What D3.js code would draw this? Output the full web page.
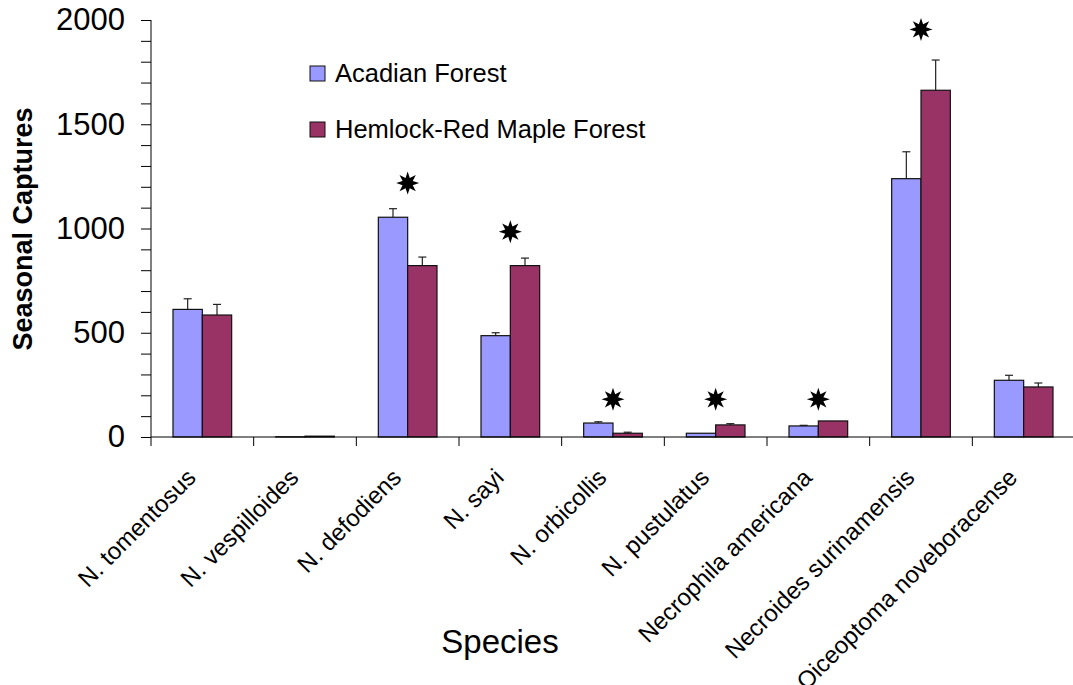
<!DOCTYPE html>
<html>
<head>
<meta charset="utf-8">
<script src="https://cdn.jsdelivr.net/npm/d3@7"></script>
<style>
  body { margin: 0; background: #fff; }
  svg { display: block; font-family: "Liberation Sans", Arial, sans-serif; }
</style>
</head>
<body>
<div id="chart"></div>
<script>
// chart data
var species = ["N. tomentosus", "N. vespilloides", "N. defodiens", "N. sayi", "N. orbicollis",
               "N. pustulatus", "Necrophila americana", "Necroides surinamensis", "Oiceoptoma noveboracense"];
var seriesNames = ["Acadian Forest", "Hemlock-Red Maple Forest"];
var acadian    = [612, 1, 1054, 486, 67, 18, 53, 1239, 272];
var acadianErr = [51, 0, 41, 14, 6, 0, 3, 129, 24];
var hemlock    = [585, 4, 822, 822, 18, 58, 77, 1663, 240];
var hemlockErr = [51, 0, 41, 36, 5, 6, 0, 145, 19];
// significance stars (value level where the star sits, null = none)
var starLevel  = [null, null, 1218, 985, 181, 181, 181, 1955, null];
var yTicks = [0, 500, 1000, 1500, 2000];

var width = 1073, height = 685;
var plotLeft = 151, plotRight = 1075, plotTop = 20, plotBottom = 437;
var colors = ["#9999ff", "#993366"];

var svg = d3.select("#chart").append("svg")
    .attr("width", width)
    .attr("height", height);

var x = d3.scaleBand().domain(species).range([plotLeft, plotRight]);
var x1 = d3.scaleBand().domain(seriesNames).range([0, x.bandwidth()]).paddingOuter(0.75);
var y = d3.scaleLinear().domain([0, 2000]).range([plotBottom, plotTop]);

// rows for the bars
var rows = [];
species.forEach(function(s, i) {
    rows.push({sp: s, series: seriesNames[0], v: acadian[i], e: acadianErr[i], c: colors[0]});
    rows.push({sp: s, series: seriesNames[1], v: hemlock[i], e: hemlockErr[i], c: colors[1]});
});

// error bars (drawn first, upward only)
var eb = svg.append("g").attr("stroke", "#222").attr("stroke-width", 1.2);
rows.filter(function(d) { return d.e > 0; }).forEach(function(d) {
    var cx = x(d.sp) + x1(d.series) + x1.bandwidth() / 2;
    eb.append("line").attr("x1", cx).attr("x2", cx).attr("y1", y(d.v)).attr("y2", y(d.v + d.e));
    eb.append("line").attr("x1", cx - 4).attr("x2", cx + 4).attr("y1", y(d.v + d.e)).attr("y2", y(d.v + d.e));
});

// bars
svg.append("g").selectAll("rect")
    .data(rows)
    .enter()
    .append("rect")
    .attr("x", function(d) { return x(d.sp) + x1(d.series); })
    .attr("y", function(d) { return y(d.v); })
    .attr("width", x1.bandwidth())
    .attr("height", function(d) { return y(0) - y(d.v); })
    .attr("fill", function(d) { return d.c; })
    .attr("stroke", "#111")
    .attr("stroke-width", 1.2);

// y axis
var yAxis = d3.axisLeft(y).tickValues(d3.range(0, 2001, 100)).tickSize(10)
    .tickFormat(function(d) { return yTicks.indexOf(d) >= 0 ? d : ""; });
var gy = svg.append("g").attr("transform", "translate(" + plotLeft + ",0)").call(yAxis);
gy.select(".domain").attr("d", "M0," + plotTop + "V" + plotBottom).attr("stroke", "#000");
gy.selectAll("text").attr("x", -26).style("font-size", "31px").attr("fill", "#000")
    .style("font-family", "Liberation Sans, Arial, sans-serif");
gy.selectAll("line").attr("stroke", "#000");

// x axis
var gx = svg.append("g").attr("transform", "translate(0," + plotBottom + ")");
gx.append("line").attr("x1", plotLeft).attr("x2", width).attr("stroke", "#000");
gx.selectAll(".tk")
    .data(species.concat(["end"]))
    .enter()
    .append("line")
    .attr("x1", function(d, i) { return plotLeft + i * x.step(); })
    .attr("x2", function(d, i) { return plotLeft + i * x.step(); })
    .attr("y1", 0).attr("y2", 9)
    .attr("stroke", "#000");

svg.append("g").selectAll("text")
    .data(species)
    .enter()
    .append("text")
    .text(function(d) { return d; })
    .attr("transform", function(d) {
        return "translate(" + (x(d) + x.bandwidth() / 2 - 5) + "," + (plotBottom + 42) + ") rotate(-45)";
    })
    .style("text-anchor", "end")
    .style("font-size", "24px");

// stars
function starPath(ro, ri, n) {
    var pts = [];
    for (var k = 0; k < n * 2; k++) {
        var a = Math.PI * k / n - Math.PI / 2;
        var r = k % 2 === 0 ? ro : ri;
        pts.push([Math.cos(a) * r, Math.sin(a) * r]);
    }
    return "M" + pts.join("L") + "Z";
}
svg.append("g").selectAll("path")
    .data(species.map(function(s, i) { return {sp: s, lv: starLevel[i]}; })
        .filter(function(d) { return d.lv !== null; }))
    .enter()
    .append("path")
    .attr("d", starPath(11.5, 5.5, 8))
    .attr("transform", function(d) {
        return "translate(" + (x(d.sp) + x.bandwidth() / 2) + "," + y(d.lv) + ")";
    })
    .attr("fill", "#000");

// legend
var lg = svg.append("g");
seriesNames.forEach(function(name, i) {
    var ly = 66 + i * 56;
    lg.append("rect").attr("x", 310).attr("y", ly).attr("width", 15).attr("height", 15)
        .attr("fill", colors[i]).attr("stroke", "#111").attr("stroke-width", 1);
    lg.append("text").attr("x", 335).attr("y", ly + 16).text(name).style("font-size", "25.5px");
});

// axis titles
svg.append("text")
    .attr("transform", "translate(32,229) rotate(-90)")
    .style("text-anchor", "middle")
    .style("font-size", "27px")
    .style("font-weight", "bold")
    .text("Seasonal Captures");

svg.append("text")
    .attr("x", 500).attr("y", 653)
    .style("text-anchor", "middle")
    .style("font-size", "33px")
    .text("Species");
</script>
</body>
</html>
